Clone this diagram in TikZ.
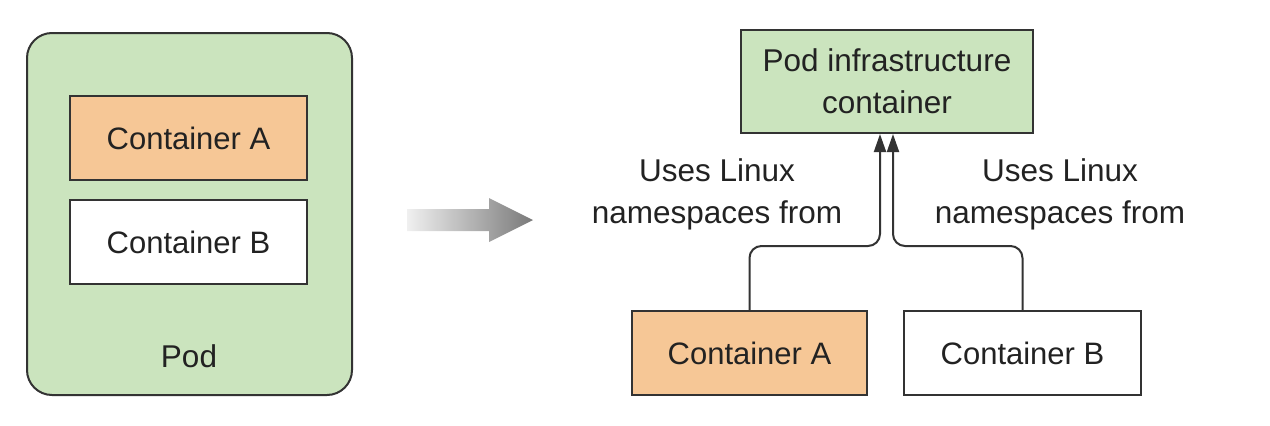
\documentclass[tikz,border=0pt]{standalone}
\usepackage{fontspec}
\setmainfont{Liberation Sans}
\usetikzlibrary{arrows.meta,calc}
\definecolor{podgreen}{HTML}{CBE4BE}
\definecolor{contorange}{HTML}{F6C796}
\definecolor{edge}{HTML}{333333}
\definecolor{txt}{HTML}{222222}
\tikzset{
  box/.style={draw=edge, line width=2pt, inner sep=0pt, text=txt, font=\fontsize{31}{42}\selectfont},
  lbl/.style={text=txt, font=\fontsize{31.5}{42}\selectfont, align=center, inner sep=0pt},
  arr/.style={draw=edge, line width=2pt, rounded corners=12pt, -{Triangle[length=18pt,width=12pt]}}
}
\begin{document}
\begin{tikzpicture}[x=1pt,y=-1pt]
\useasboundingbox (0,0) rectangle (1270,426);
% Pod
\node[box, fill=podgreen, rounded corners=25pt, minimum width=325pt, minimum height=362pt] (pod) at (189.5,214) {};
\node[lbl] (podlbl) at (189,356) {Pod};
\node[box, fill=contorange, minimum width=237pt, minimum height=84pt] (la) at (188.5,138) {Container A};
\node[box, fill=white, minimum width=237pt, minimum height=84pt] (lb) at (188.5,242) {Container B};
% gradient arrow
\shade[left color=gray!12, right color=gray!95!black] (407,209) -- (489,209) -- (489,198) -- (533,220) -- (489,242) -- (489,231) -- (407,231) -- cycle;
% right side
\node[box, fill=podgreen, minimum width=292pt, minimum height=103pt, align=center, font=\fontsize{31.5}{42}\selectfont] (inf) at (887,81.5) {Pod infrastructure\\container};
\node[box, fill=contorange, minimum width=235pt, minimum height=84pt] (ra) at (749.5,353) {Container A};
\node[box, fill=white, minimum width=237pt, minimum height=84pt] (rb) at (1022.5,353) {Container B};
\draw[arr] (ra.north) |- ($(inf.south)+(-7,112)$) -- ($(inf.south)+(-7,0)$);
\draw[arr] (rb.north) |- ($(inf.south)+(6,112)$) -- ($(inf.south)+(6,0)$);
\node[lbl] (ul) at (717,194) {Uses Linux\\namespaces from};
\node[lbl] (ur) at (1060,194) {Uses Linux\\namespaces from};
\end{tikzpicture}
\end{document}
